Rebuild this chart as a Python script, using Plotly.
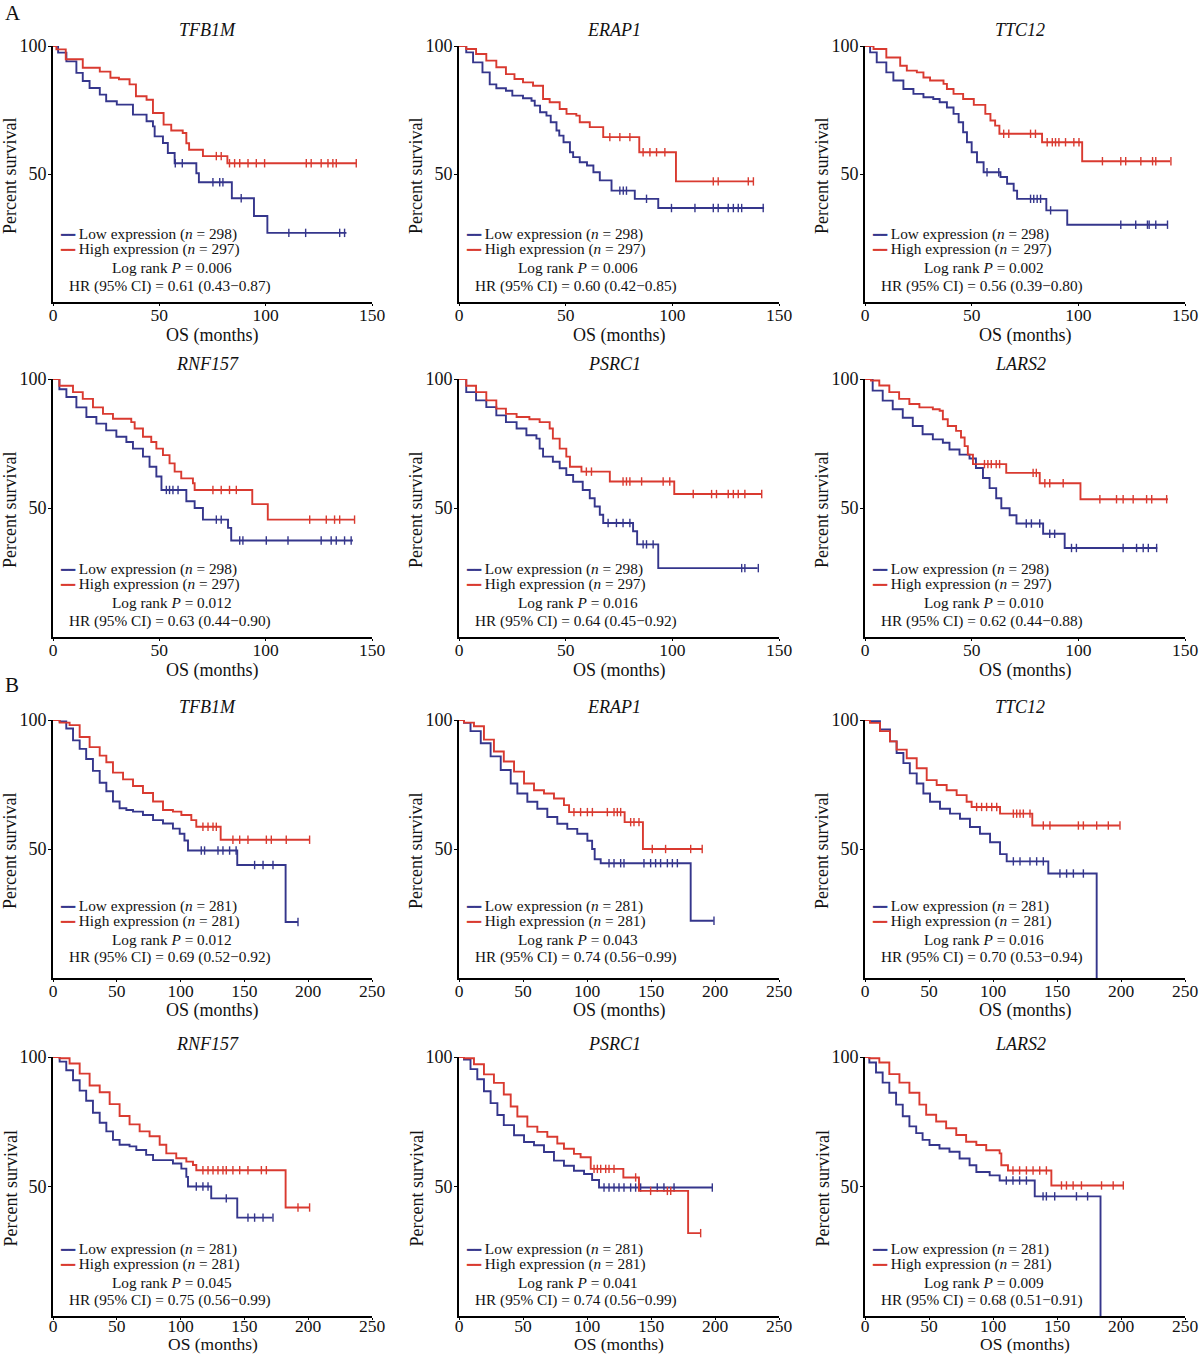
import plotly.graph_objects as go

W, H = 1200, 1355
FONT = "Liberation Serif"
BLUE = "#35368c"
RED = "#d93a30"
INK = "#111111"

# ---------------- text / tick data ----------------
genes = ["TFB1M", "ERAP1", "TTC12", "RNF157", "PSRC1", "LARS2"]
xticks_a = [0, 50, 100, 150]
xticks_b = [0, 50, 100, 150, 200, 250]
yticks = [50, 100]
n_a = (298, 297)
n_b = (281, 281)
p_a = ["0.006", "0.006", "0.002", "0.012", "0.016", "0.010"]
hr_a = ["0.61 (0.43−0.87)", "0.60 (0.42−0.85)", "0.56 (0.39−0.80)",
        "0.63 (0.44−0.90)", "0.64 (0.45−0.92)", "0.62 (0.44−0.88)"]
p_b = ["0.012", "0.043", "0.016", "0.045", "0.041", "0.009"]
hr_b = ["0.69 (0.52−0.92)", "0.74 (0.56−0.99)", "0.70 (0.53−0.94)",
        "0.75 (0.56−0.99)", "0.74 (0.56−0.99)", "0.68 (0.51−0.91)"]

# ---------------- survival data: panel A ----------------
a_tfb1m_low_t = [0, 2.4, 6.3, 11, 14, 17.2, 22, 25, 30, 37.6, 44, 47, 47.8, 51.7, 54, 57.2, 67.4, 68.6, 84.1, 94.5, 100.8, 138]
a_tfb1m_low_s = [100, 97.4, 94, 89.5, 86.3, 83.6, 81, 78.4, 77.1, 73.2, 70.6, 68.6, 64.7, 62.1, 58.2, 54.2, 50.3, 46.8, 40.5, 33.6, 27, 27]
a_tfb1m_low_c = [57.5, 60.8, 75.2, 78.4, 79.9, 88.5, 110.9, 118.8, 134.8, 137.1]
a_tfb1m_high_t = [0, 1.6, 6, 14, 22, 27, 31, 36, 39, 44, 47, 52, 55.6, 61, 62.7, 64, 70.5, 82, 142.6]
a_tfb1m_high_s = [100, 98.7, 94.8, 91.5, 90, 87.6, 87, 85, 80.4, 79, 73.8, 69.3, 67, 66, 62, 59.5, 57, 54.2, 54.2]
a_tfb1m_high_c = [76.8, 79.1, 83, 85.4, 87.8, 91.7, 95.6, 99.5, 119.1, 121.4, 126.1, 129.3, 131.6, 133.2, 142.6]

a_erap1_low_t = [0, 3.4, 6.6, 11, 14.4, 17.5, 22, 25, 30, 34, 35.5, 38, 41, 43, 45.7, 47, 49, 52, 53.5, 56.6, 60, 63, 66, 71.5, 82.4, 93.4, 143]
a_erap1_low_s = [100, 97.5, 93.6, 89.7, 85, 83.5, 82.5, 80.6, 79.6, 78.6, 76.7, 74.1, 72.8, 70.2, 67, 65, 62.4, 58.5, 56.6, 54.6, 53.3, 50.7, 47.5, 43.5, 40.3, 36.7, 36.7]
a_erap1_low_c = [75.4, 77, 78.5, 87.9, 99.6, 110.6, 119.2, 121.5, 126.2, 128.6, 130.9, 132.5, 142.6]
a_erap1_high_t = [0, 3.4, 8, 12.8, 17.5, 22, 26, 30, 34.7, 39.4, 42.5, 47.2, 50.4, 55, 56.6, 61.3, 67.6, 84.5, 101.7, 138]
a_erap1_high_s = [100, 98.8, 96.9, 94.3, 91.7, 89, 87.1, 85.8, 84.5, 79.3, 78, 75.4, 73.5, 72.8, 70.2, 68.3, 64.4, 58.5, 47.1, 47.1]
a_erap1_high_c = [70.7, 75.4, 80.1, 86.3, 89.5, 92.6, 96.5, 119.2, 121.5, 135.6, 138]

a_ttc12_low_t = [0, 2.4, 5.5, 10, 13.3, 18, 22.7, 27.4, 32, 35, 38.4, 41.5, 43.9, 46, 47.8, 50, 52.5, 55.6, 63.5, 66.6, 69.7, 71.3, 85, 94.8, 142]
a_ttc12_low_s = [100, 97.5, 93.6, 89.7, 86.5, 83.2, 81.3, 80, 79.3, 78, 76, 73.5, 70.2, 66.3, 62.4, 58.5, 54.6, 50.7, 48.8, 46.2, 43.5, 40.3, 35.8, 30.2, 30.2]
a_ttc12_low_c = [57.2, 62.7, 77.6, 79.1, 80.7, 82.3, 87, 119.9, 126.9, 132.4, 133.2, 136.3, 141.8]
a_ttc12_high_t = [0, 4, 10, 16.5, 19.6, 24.3, 27.4, 30.5, 36.8, 38.4, 41.5, 46, 51, 56.4, 58.8, 61, 63, 83, 101.8, 143]
a_ttc12_high_s = [100, 98.8, 95.5, 92.3, 90.4, 89.7, 87.7, 86.5, 85.2, 83.2, 81.3, 79.3, 77, 73.5, 70.9, 68.9, 65.7, 62.4, 55, 55]
a_ttc12_high_c = [65, 67.4, 77.6, 79.9, 85.4, 87.8, 89.3, 90.9, 94, 97.9, 100.3, 111.3, 119.9, 122.2, 129.3, 134.8, 136.3, 143.4]

a_rnf157_low_t = [0, 3, 6.3, 11, 15.7, 20.4, 25, 29.8, 34.5, 37.6, 42.3, 45.4, 48.6, 51, 62.7, 66.6, 70.5, 82.3, 83.8, 141]
a_rnf157_low_s = [100, 96, 93, 89, 85.3, 82.7, 80.1, 77.6, 75.6, 73, 69.9, 66, 62.2, 57, 52.6, 50, 45.5, 42.3, 37.4, 37.4]
a_rnf157_low_c = [53.3, 54.8, 56.4, 58.8, 76.8, 79.1, 87.8, 89.3, 100.3, 110.5, 126.1, 130.8, 133.2, 137.1, 140.2]
a_rnf157_high_t = [0, 3, 9.4, 14, 18.8, 23.5, 28.2, 36.8, 38.4, 42.3, 46.2, 48.6, 51.7, 54.8, 57.2, 60.3, 65.8, 66.6, 93.7, 101, 142]
a_rnf157_high_s = [100, 97.4, 94.9, 92.3, 89, 86.5, 84.6, 83.3, 80.8, 77.6, 75.6, 73, 70.5, 67.3, 64.1, 61.5, 59.6, 57, 51.5, 45.5, 45.5]
a_rnf157_high_c = [75.2, 79.1, 83, 86.2, 120.7, 128.5, 132.4, 134.8, 141.8]

a_psrc1_low_t = [0, 3.4, 8, 12.8, 17.5, 22, 27, 31.6, 36.3, 37.8, 39.4, 44, 47.2, 50.3, 53.5, 58, 61.3, 63.6, 66, 67.6, 81.6, 83.5, 93.4, 140]
a_psrc1_low_s = [100, 94.9, 91.7, 89.1, 85.9, 83.3, 80.8, 78.2, 76.9, 73, 69.9, 67.9, 65.4, 62.8, 60.2, 57, 53.8, 50.6, 47.4, 44.2, 41, 35.9, 26.7, 26.7]
a_psrc1_low_c = [69.9, 73.8, 76.9, 80.1, 86.3, 87.9, 91, 132.5, 134, 140.3]
a_psrc1_high_t = [0, 3.4, 8, 12.8, 17.5, 22, 27, 33, 37.8, 42.5, 44, 47.2, 50.3, 52, 57.4, 70.7, 100.9, 141.8]
a_psrc1_high_s = [100, 97.4, 94.9, 91.7, 88.5, 86.5, 85.3, 84.4, 83.3, 80.8, 76.9, 73, 69.9, 66, 64.1, 60.3, 55.4, 55.4]
a_psrc1_high_c = [59.7, 62.1, 76.9, 78.5, 80.1, 85.6, 95.7, 98.8, 109.8, 118.4, 120.7, 126.2, 128.6, 130.9, 134, 141.9]

a_lars2_low_t = [0, 3.6, 8.3, 13, 17.7, 22.4, 27, 31.8, 36.5, 39.6, 44.3, 49, 52, 55.3, 58.4, 61.5, 63.9, 67.8, 71, 83.5, 93.6, 137]
a_lars2_low_s = [100, 95.5, 91.6, 88.3, 85, 81.8, 78.6, 76.6, 75.3, 72.7, 70.7, 69.2, 65.5, 61.6, 57.7, 53.8, 49.9, 47.2, 44, 40, 34.5, 34.5]
a_lars2_low_c = [75.6, 78, 81.9, 86.6, 88.9, 96.8, 99.1, 121, 127.3, 130.4, 132.8, 136.7]
a_lars2_high_t = [0, 2.8, 6.7, 11.4, 16, 20.8, 25.5, 31.8, 35, 36.5, 38.8, 42.7, 45, 46.7, 48.2, 50.6, 66.2, 81.9, 101, 142]
a_lars2_high_s = [100, 99.4, 97.5, 94.9, 92.3, 90.3, 89, 88.3, 87.7, 84.4, 81.8, 79.9, 77.3, 74, 70.7, 67, 63.6, 59.6, 53.4, 53.4]
a_lars2_high_c = [56, 57.6, 59.2, 61.5, 63.1, 78.8, 80.3, 84.3, 86.6, 92.9, 110.1, 117.9, 121, 125.7, 132, 134.4, 141.4]

# ---------------- survival data: panel B ----------------
b_tfb1m_low_t = [0, 5.2, 10.4, 15.7, 20.9, 26, 31.3, 36.6, 41.8, 47, 52.2, 57.5, 62.7, 70.5, 78.4, 86.2, 94, 99.3, 103, 105.8, 144.4, 182.3, 192]
b_tfb1m_low_s = [100, 99.4, 96.7, 92.1, 88.8, 84.9, 80.3, 75.7, 72.4, 68.4, 65.8, 65.1, 64.5, 63.2, 61.2, 59.9, 57.9, 55.9, 53.3, 49.4, 43.8, 21.7, 21.7]
b_tfb1m_low_c = [116.2, 118.8, 129.3, 133.2, 138.4, 143.5, 158, 164.6, 172.4, 192]
b_tfb1m_high_t = [0, 5.2, 13, 20.9, 28.7, 36.6, 41.8, 47, 54.9, 62.7, 70.5, 78.4, 86.2, 94, 100.6, 108.4, 112.3, 131.4, 201]
b_tfb1m_high_s = [100, 99, 98, 93.4, 89.5, 86.2, 83.6, 79.6, 77, 74.4, 71.7, 68.4, 65.1, 64.5, 63.2, 61.2, 58.6, 53.6, 53.6]
b_tfb1m_high_c = [117.5, 121.5, 125.4, 128, 141, 146.3, 152.8, 167.2, 171.1, 182.8, 201.1]

b_erap1_low_t = [0, 3.9, 9, 17, 24.7, 32.6, 40.4, 45.6, 53.4, 61.2, 69, 76.8, 84.6, 92.4, 100.3, 104, 106, 110.7, 181, 199]
b_erap1_low_s = [100, 98.9, 95.7, 91, 85.9, 80.6, 75.4, 71.5, 68.3, 65.6, 62.4, 59.8, 57.8, 55.9, 53.2, 50, 46, 44.5, 22.2, 22.2]
b_erap1_low_c = [117.2, 121.1, 126.3, 128.9, 144.5, 149.7, 153.6, 157.5, 162.8, 166.7, 170.6, 199.2]
b_erap1_high_t = [0, 3.9, 11.7, 19.5, 27.3, 35, 43, 50.8, 58.6, 66.4, 74.2, 82, 86, 129.4, 143.7, 190]
b_erap1_high_s = [100, 99, 97.6, 92.4, 87.8, 83.9, 80, 75.4, 72.8, 71.5, 69.6, 67, 64.3, 60.4, 50, 50]
b_erap1_high_c = [89.8, 95, 100.3, 104.2, 115.9, 121.1, 123.7, 126.3, 134.1, 136.7, 140.6, 151, 161.4, 181, 190]

b_ttc12_low_t = [0, 3.9, 11.7, 19.5, 24.7, 30, 35, 40.4, 45.6, 50.8, 58.6, 66.4, 74.2, 82, 89.8, 97.7, 105.5, 110.7, 143.2, 181]
b_ttc12_low_s = [100, 99.5, 96.3, 91.7, 87.2, 83.3, 79.3, 75.4, 71.5, 68.3, 65.6, 63.7, 61.7, 58.5, 55.9, 52.6, 48, 45.2, 40.5, 0]
b_ttc12_low_c = [115.9, 121.1, 128.9, 134.1, 139.3, 152.3, 157.5, 162.8, 170.6]
b_ttc12_high_t = [0, 3.9, 11.7, 19.5, 24.7, 32.6, 40.4, 48.2, 56, 63.8, 71.6, 79.4, 83.3, 105.5, 130.7, 199]
b_ttc12_high_s = [100, 98.9, 95.7, 91.7, 88.5, 85.2, 81.3, 76.7, 74.8, 72.8, 70.9, 68.3, 66.3, 63.7, 59.1, 59.1]
b_ttc12_high_c = [87.2, 91.1, 95, 99, 102.9, 115.9, 118.5, 121.1, 123.7, 128.9, 139.3, 144.5, 166.7, 170.6, 181, 190.1, 199.2]

b_rnf157_low_t = [0, 5.2, 10.4, 15.7, 20.9, 26, 31.3, 36.6, 41.8, 47, 52.2, 60, 65.3, 73, 78.4, 94, 100.6, 104.5, 105.8, 124, 144.4, 172]
b_rnf157_low_s = [100, 98.2, 94.9, 91, 87, 83.1, 78.5, 74.6, 71.3, 68, 66.1, 65.5, 64.1, 62.2, 60.2, 58.9, 56.9, 53.7, 50, 45.4, 38, 38]
b_rnf157_low_c = [112.3, 117.5, 121.5, 135.8, 152.8, 158, 164.6, 172.4]
b_rnf157_high_t = [0, 5.2, 13, 20.9, 28.7, 36.6, 44.4, 52.2, 60, 67.9, 75.7, 83.6, 88.8, 96.6, 104.5, 109.7, 112.3, 182.3, 201]
b_rnf157_high_s = [100, 99.5, 97.5, 93.6, 89, 86.4, 81.8, 77.2, 74, 71.3, 69.4, 66.1, 62.8, 60.9, 59.6, 58.3, 56.3, 41.9, 41.9]
b_rnf157_high_c = [117.5, 121.5, 125.4, 129.3, 133.2, 135.8, 141, 146.3, 152.8, 163.3, 167.2, 192, 201.1]

b_psrc1_low_t = [0, 3.9, 9, 14.3, 19.5, 24.7, 30, 35, 43, 50.8, 58.6, 66.4, 74.2, 82, 89.8, 97.7, 104, 109.4, 198]
b_psrc1_low_s = [100, 99, 95.3, 91.4, 86.8, 82.2, 77.6, 73.7, 69.8, 67.2, 65.9, 63.3, 60, 58, 56.1, 54.8, 52.5, 49.6, 49.6]
b_psrc1_low_c = [113.3, 117.2, 121.1, 125, 128.9, 134.1, 138, 141.9, 154.9, 160.1, 168, 197.9]
b_psrc1_high_t = [0, 3.9, 11.7, 19.5, 27.3, 35, 40.4, 45.6, 53.4, 61.2, 69, 76.8, 82, 89.8, 95, 102.9, 128.4, 140.6, 179, 189]
b_psrc1_high_s = [100, 99.5, 97.2, 93.3, 90, 85.5, 80.9, 77, 73.1, 71.1, 69.2, 66.6, 64.6, 62.6, 61.3, 56.8, 53.5, 48.3, 32, 32]
b_psrc1_high_c = [105.5, 108.1, 110.7, 114.6, 117.2, 121.1, 138, 149.7, 162.8, 165.4, 188.8]

b_lars2_low_t = [0, 3.4, 8.6, 13.8, 19, 24.3, 29.5, 34.7, 40, 45, 50.4, 58.2, 66, 73.9, 81.7, 87, 97.4, 105.2, 132.6, 184]
b_lars2_low_s = [100, 97.9, 94, 90.1, 86.2, 81.6, 77.1, 73.2, 70.6, 68, 66, 64.7, 63.4, 60.8, 58.2, 55.6, 54.3, 52.3, 46.2, 0]
b_lars2_low_c = [110.4, 115.6, 120.8, 126.1, 139.1, 141.7, 148.2, 165.2, 173.9]
b_lars2_high_t = [0, 3.4, 11.2, 19, 26.9, 34.7, 42.5, 47.8, 55.6, 63.4, 71.3, 79, 87, 94.7, 105.2, 106.5, 111.7, 145.6, 201.8]
b_lars2_high_s = [100, 99.5, 97.9, 93.4, 90.1, 86.2, 81.6, 77.7, 75.1, 72.5, 69.9, 67.3, 66, 64, 62.8, 58.2, 56.2, 50.4, 50.4]
b_lars2_high_c = [115.6, 120.8, 126.1, 131.3, 136.5, 141.7, 153.5, 157.4, 162.6, 169.1, 184.8, 193.9, 201.8]

panels = [
    (a_tfb1m_low_t, a_tfb1m_low_s, a_tfb1m_low_c, a_tfb1m_high_t, a_tfb1m_high_s, a_tfb1m_high_c),
    (a_erap1_low_t, a_erap1_low_s, a_erap1_low_c, a_erap1_high_t, a_erap1_high_s, a_erap1_high_c),
    (a_ttc12_low_t, a_ttc12_low_s, a_ttc12_low_c, a_ttc12_high_t, a_ttc12_high_s, a_ttc12_high_c),
    (a_rnf157_low_t, a_rnf157_low_s, a_rnf157_low_c, a_rnf157_high_t, a_rnf157_high_s, a_rnf157_high_c),
    (a_psrc1_low_t, a_psrc1_low_s, a_psrc1_low_c, a_psrc1_high_t, a_psrc1_high_s, a_psrc1_high_c),
    (a_lars2_low_t, a_lars2_low_s, a_lars2_low_c, a_lars2_high_t, a_lars2_high_s, a_lars2_high_c),
    (b_tfb1m_low_t, b_tfb1m_low_s, b_tfb1m_low_c, b_tfb1m_high_t, b_tfb1m_high_s, b_tfb1m_high_c),
    (b_erap1_low_t, b_erap1_low_s, b_erap1_low_c, b_erap1_high_t, b_erap1_high_s, b_erap1_high_c),
    (b_ttc12_low_t, b_ttc12_low_s, b_ttc12_low_c, b_ttc12_high_t, b_ttc12_high_s, b_ttc12_high_c),
    (b_rnf157_low_t, b_rnf157_low_s, b_rnf157_low_c, b_rnf157_high_t, b_rnf157_high_s, b_rnf157_high_c),
    (b_psrc1_low_t, b_psrc1_low_s, b_psrc1_low_c, b_psrc1_high_t, b_psrc1_high_s, b_psrc1_high_c),
    (b_lars2_low_t, b_lars2_low_s, b_lars2_low_c, b_lars2_high_t, b_lars2_high_s, b_lars2_high_c),
]

# ---------------- layout geometry (window pixels) ----------------
col_px = [(53, 372), (459, 779), (865, 1185)]
row_px = [(46, 302), (379, 637), (720, 978), (1057, 1316)]
leg_off = [(-68, -53, -35, -16), (-68, -53, -35, -16), (-72, -57, -39, -21), (-67, -52, -34, -16)]
title_off = [16, 15, 13, 13]
xtitle_off = [34, 33, 32, 28]
xtitle_size = [18, 18, 18, 17.5]
xtick_standoff = [-6, -6, -6, -9]


def px_x(x):
    return x / W


def px_y(y):
    return 1 - y / H


def step_at(ts, ss, c):
    v = ss[0]
    for t, s in zip(ts, ss):
        if t <= c:
            v = s
        else:
            break
    return v


fig = go.Figure()
annotations = []
layout = {}


def ann(x, y, text, size, **kw):
    d = dict(x=px_x(x), y=px_y(y), xref="paper", yref="paper", text=text, showarrow=False,
             font=dict(family=FONT, size=size, color=INK), xanchor="center", yanchor="middle")
    d.update(kw)
    annotations.append(d)


for i, (lt, ls, lc, ht, hs, hc) in enumerate(panels):
    r, c = divmod(i, 3)
    is_a = r < 2
    sfx = "" if i == 0 else str(i + 1)
    xa, ya = "x" + sfx, "y" + sfx
    x0, x1 = col_px[c]
    yt, yb = row_px[r]

    for ts, ss, cs, col in ((lt, ls, lc, BLUE), (ht, hs, hc, RED)):
        fig.add_trace(go.Scatter(x=ts, y=ss, mode="lines", line=dict(color=col, width=1.9, shape="hv"),
                                 xaxis=xa, yaxis=ya, showlegend=False, hoverinfo="skip"))
        fig.add_trace(go.Scatter(x=cs, y=[step_at(ts, ss, v) for v in cs], mode="markers",
                                 marker=dict(symbol="line-ns", size=6, line=dict(color=col, width=1.4)),
                                 xaxis=xa, yaxis=ya, showlegend=False, hoverinfo="skip", cliponaxis=False))

    xmax = 150 if is_a else 250
    layout["xaxis" + sfx] = dict(
        domain=[px_x(x0), px_x(x1)], range=[0, xmax], anchor=ya, automargin=False,
        tickvals=xticks_a if is_a else xticks_b, ticks="outside", ticklen=2, tickwidth=1.2,
        ticklabelstandoff=xtick_standoff[r],
        tickcolor="black", showline=True, linecolor="black", linewidth=1.6,
        showgrid=False, zeroline=False, tickfont=dict(family=FONT, size=17.5, color=INK))
    layout["yaxis" + sfx] = dict(
        domain=[px_y(yb), px_y(yt)], range=[0, 100], anchor=xa, automargin=False,
        tickvals=yticks, ticks="outside", ticklen=3, tickwidth=1.2, tickcolor="black",
        ticklabelstandoff=-2,
        showline=True, linecolor="black", linewidth=1.6, showgrid=False, zeroline=False,
        tickfont=dict(family=FONT, size=18, color=INK))

    cx = (x0 + x1) / 2
    ann(cx - 5, yt - title_off[r], "<i>" + genes[c + 3 * (r % 2)] + "</i>", 18)
    ann(cx, yb + xtitle_off[r], "OS (months)", xtitle_size[r])
    ann(x0 - 43, (yt + yb) / 2 + 2, "Percent survival", 18, textangle=-90)

    nl, nh = n_a if is_a else n_b
    p = (p_a if is_a else p_b)[i % 6]
    hr = (hr_a if is_a else hr_b)[i % 6]
    o = leg_off[r]
    ann(x0 + 5, yb + o[0], f"<span style='color:{BLUE};font-size:12px'>━━</span> Low expression (<i>n</i> = {nl})", 15.3, xanchor="left")
    ann(x0 + 5, yb + o[1], f"<span style='color:{RED};font-size:12px'>━━</span> High expression (<i>n</i> = {nh})", 15.3, xanchor="left")
    ann(x0 + 119, yb + o[2], f"Log rank <i>P</i> = {p}", 15.3)
    ann(x0 + 117, yb + o[3], f"HR (95% CI) = {hr}", 15.3)

ann(3, 13, "A", 21, xanchor="left")
ann(3, 685, "B", 21, xanchor="left")

fig.update_layout(width=W, height=H, margin=dict(l=0, r=0, t=0, b=0, autoexpand=False),
                  paper_bgcolor="white", plot_bgcolor="white",
                  annotations=annotations, showlegend=False, **layout)

fig.write_html("out.html", config={"displayModeBar": False},
               post_script="document.body.style.margin='0';document.body.style.overflow='hidden';")
